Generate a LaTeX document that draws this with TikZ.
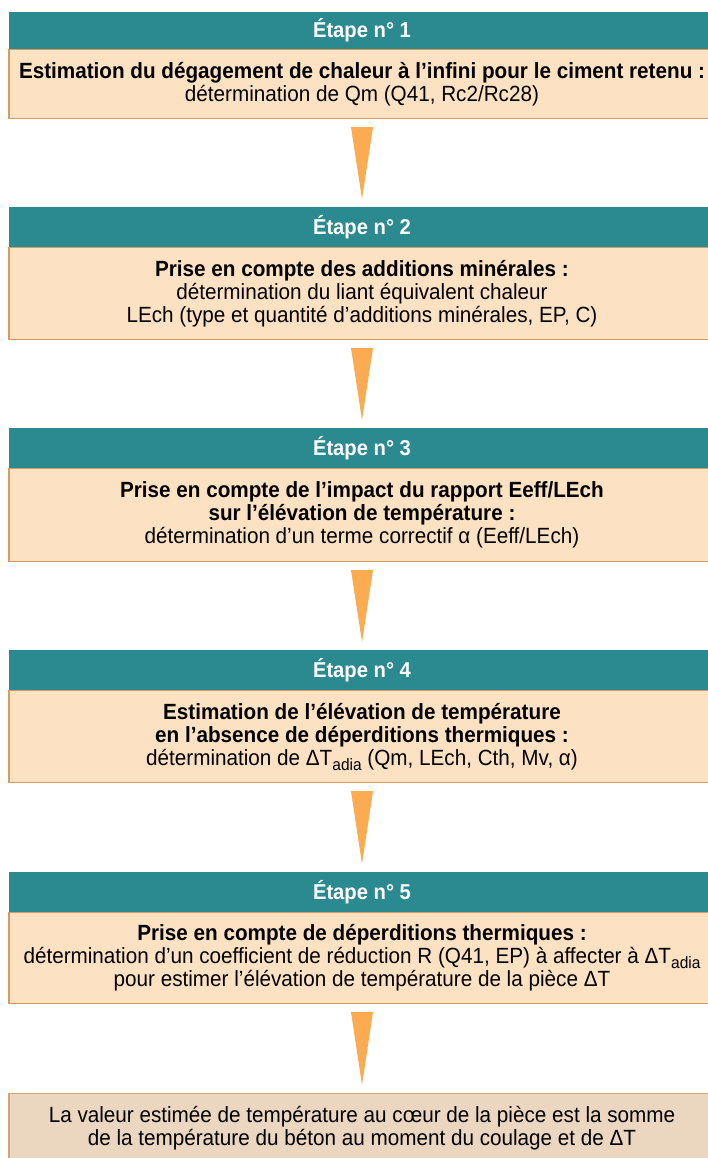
\documentclass[tikz,border=0pt]{standalone}
\usepackage{fontspec}
\setmainfont{Liberation Sans}
\newfontfamily\narrowfont[FakeStretch=0.94]{Liberation Sans}
\usetikzlibrary{calc}
\definecolor{hdrteal}{HTML}{2B8A8F}
\definecolor{peach}{HTML}{FDE1C3}
\definecolor{peachline}{HTML}{D29C62}
\definecolor{tan}{HTML}{EBD7BF}
\definecolor{tanline}{HTML}{D4A373}
\definecolor{arrorange}{HTML}{FBAB52}
\newcommand{\adiasub}{\raisebox{-5pt}{\fontsize{16.5}{16.5}\selectfont adia}}
\begin{document}
\begin{tikzpicture}[x=1pt,y=-1pt,
  hdr/.style={fill=hdrteal, text=white, font=\narrowfont\bfseries\fontsize{21.5}{22}\selectfont,
    minimum width=706pt, inner sep=0pt, anchor=north},
  bodybox/.style={fill=peach, draw=peachline, line width=1.2pt, align=center,
    minimum width=706pt, inner sep=0pt, anchor=north,
    font=\narrowfont\fontsize{22}{23}\selectfont},
  finalbox/.style={bodybox, fill=tan, draw=tanline},
  wedge/.style={fill=arrorange}]
\useasboundingbox (0,0) rectangle (707,1158);

% Step 1
\node[bodybox, minimum height=69pt] (b1) at (362,49) {\textbf{Estimation du dégagement de chaleur à l’infini pour le ciment retenu :}\\détermination de Qm (Q41, Rc2/Rc28)};
\node[hdr, minimum height=37pt] (h1) at (362,12) {Étape n° 1};

% Step 2
\node[bodybox, minimum height=92pt] (b2) at (362,247) {\textbf{Prise en compte des additions minérales :}\\détermination du liant équivalent chaleur\\LEch (type et quantité d’additions minérales, EP, C)};
\node[hdr, minimum height=40pt] (h2) at (362,207) {Étape n° 2};

% Step 3
\node[bodybox, minimum height=93pt] (b3) at (362,468) {\textbf{Prise en compte de l’impact du rapport Eeff/LEch}\\\textbf{sur l’élévation de température :}\\détermination d’un terme correctif α (Eeff/LEch)};
\node[hdr, minimum height=40pt] (h3) at (362,428) {Étape n° 3};

% Step 4
\node[bodybox, minimum height=92pt] (b4) at (362,690) {\textbf{Estimation de l’élévation de température}\\\textbf{en l’absence de déperditions thermiques :}\\détermination de ΔT\adiasub{} (Qm, LEch, Cth, Mv, α)};
\node[hdr, minimum height=40pt] (h4) at (362,650) {Étape n° 4};

% Step 5
\node[bodybox, minimum height=91pt] (b5) at (362,912) {\textbf{Prise en compte de déperditions thermiques :}\\détermination d’un coefficient de réduction R (Q41, EP) à affecter à ΔT\adiasub\\pour estimer l’élévation de température de la pièce ΔT};
\node[hdr, minimum height=40pt] (h5) at (362,872) {Étape n° 5};

% Final
\node[finalbox, minimum height=69pt] (fin) at (362,1093) {La valeur estimée de température au cœur de la pièce est la somme\\de la température du béton au moment du coulage et de ΔT};

% Wedge arrows
\foreach \a/\b in {b1/h2, b2/h3, b3/h4, b4/h5, b5/fin}{
  \fill[wedge] ($(\a.south)+(-11,8)$) -- ($(\a.south)+(11,8)$) -- ($(\b.north)+(0,-8)$) -- cycle;
}
\end{tikzpicture}
\end{document}
